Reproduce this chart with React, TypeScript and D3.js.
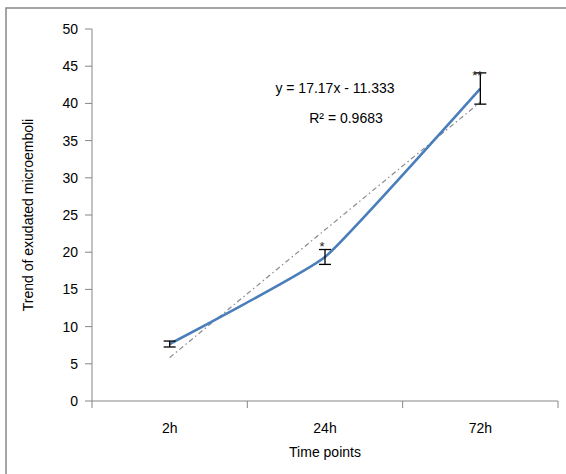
import React from "react";
import * as d3 from "d3";

const categories = ["2h", "24h", "72h"];
const values = [7.66, 19.36, 42.0];
const errors = [0.4, 1.0, 2.1];
const marks = ["", "*", "**"];
const yTicks = [0, 5, 10, 15, 20, 25, 30, 35, 40, 45, 50];
const trendSlope = 17.17;
const trendIntercept = -11.333;
const equationText = "y = 17.17x - 11.333";
const r2Text = "R² = 0.9683";

const W = 566;
const H = 474;
const left = 92;
const right = 558;
const top = 29;
const bottom = 401;
const markOffsets = [0, 1.5, 7];

export default function App() {
  const x = d3.scaleBand<string>().domain(categories).range([left, right]).padding(0);
  const cx = (c: string) => (x(c) as number) + x.bandwidth() / 2;
  const y = d3.scaleLinear().domain([0, 50]).range([bottom, top]);
  const pts: [number, number][] = categories.map((c, i) => [cx(c), y(values[i])]);
  const line = d3.line().curve(d3.curveCardinal.tension(0.65))(pts) as string;
  const trendPts: [number, number][] = categories.map((c, i) => [cx(c), y(trendSlope * (i + 1) + trendIntercept)]);
  const trend = d3.line()(trendPts) as string;
  const font = "'Liberation Sans', Arial, sans-serif";
  const axisColor = "#868686";
  const tickEdges = [left, ...categories.map((c) => (x(c) as number) + x.bandwidth())];

  return (
    <svg width={W} height={H} style={{ position: "absolute", left: 0, top: 0, background: "#fff" }} fontFamily={font}>
      <rect x={6} y={8} width={W + 10} height={H + 10} fill="#fff" stroke="#888" strokeWidth={1.5} />
      <line x1={left} x2={left} y1={top} y2={bottom} stroke={axisColor} strokeWidth={1} />
      {yTicks.map((t) => (
        <g key={t}>
          <line x1={left - 7} x2={left} y1={y(t)} y2={y(t)} stroke={axisColor} />
          <text x={78} y={y(t)} dy="0.35em" textAnchor="end" fontSize={14} fill="#000">{t}</text>
        </g>
      ))}
      <line x1={left} x2={right} y1={bottom} y2={bottom} stroke={axisColor} />
      {tickEdges.map((t, i) => (
        <line key={i} x1={t} x2={t} y1={bottom} y2={bottom + 7} stroke={axisColor} />
      ))}
      {categories.map((c) => (
        <text key={c} x={cx(c)} y={433} textAnchor="middle" fontSize={14} fill="#000">{c}</text>
      ))}
      <text x={(left + right) / 2} y={457} textAnchor="middle" fontSize={14} fill="#000">Time points</text>
      <text transform={`translate(33,${(top + bottom) / 2}) rotate(-90)`} textAnchor="middle" fontSize={14} fill="#000">Trend of exudated microemboli</text>
      <path d={trend} fill="none" stroke="#8a8a8a" strokeWidth={1.2} strokeDasharray="5 3 1.5 3" />
      <path d={line} fill="none" stroke="#4A7EBB" strokeWidth={2.6} />
      {categories.map((c, i) => {
        const px = cx(c);
        const y1 = y(values[i] + errors[i]);
        const y2 = y(values[i] - errors[i]);
        return (
          <g key={c} stroke="#000" strokeWidth={1.3}>
            <line x1={px} x2={px} y1={y1} y2={y2} />
            <line x1={px - 6} x2={px + 6} y1={y1} y2={y1} />
            <line x1={px - 6} x2={px + 6} y1={y2} y2={y2} />
          </g>
        );
      })}
      {categories.map((c, i) => (
        marks[i] ? (
          <text key={c} x={cx(c) - 3} y={y(values[i] + errors[i]) + markOffsets[i]} textAnchor="middle" fontSize={13} fill="#222">{marks[i]}</text>
        ) : null
      ))}
      <text x={335} y={93} textAnchor="middle" fontSize={14} fill="#000">{equationText}</text>
      <text x={346} y={123} textAnchor="middle" fontSize={14} fill="#000">{r2Text}</text>
    </svg>
  );
}
